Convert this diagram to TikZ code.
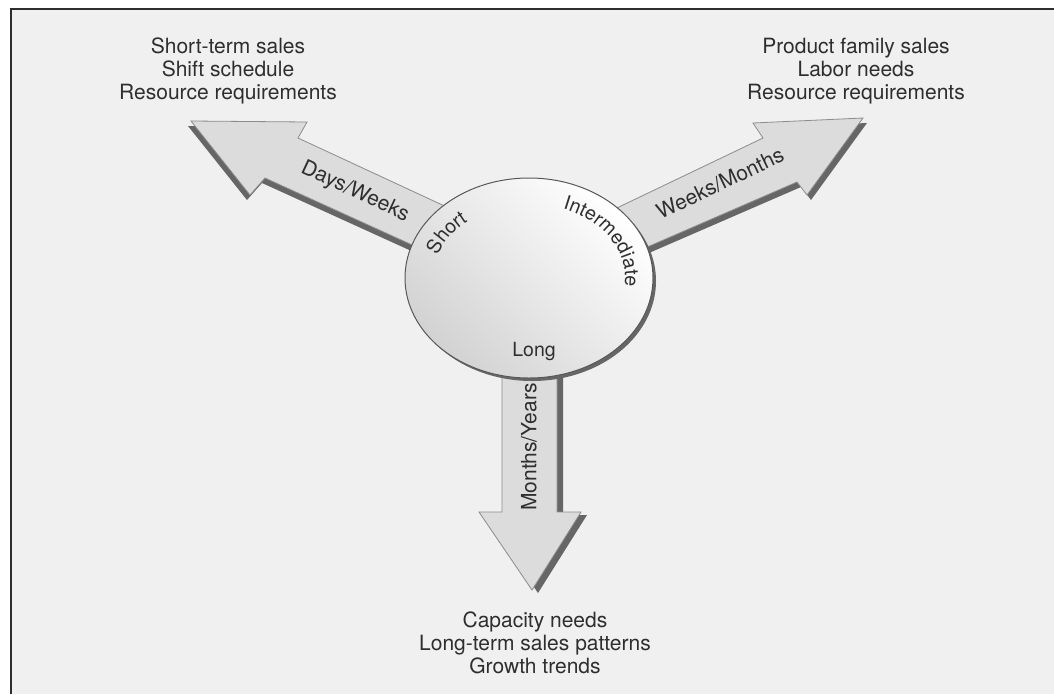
\documentclass[tikz,border=0pt]{standalone}
\usepackage{fontspec}
\setmainfont{TeX Gyre Heros}
\usetikzlibrary{decorations.text}
\newdimen\pxsize
\setlength{\pxsize}{1pt}
\definecolor{panel}{HTML}{F0F0F0}
\definecolor{ink}{HTML}{2E2E2E}
\definecolor{arrowfill}{HTML}{DCDCDC}
\definecolor{arrowedge}{HTML}{8C8C8C}
\definecolor{shadowgray}{HTML}{666666}
\newcommand{\ringfont}{\fontsize{19.5}{21}\selectfont}

\begin{document}
\begin{tikzpicture}[x=\pxsize,y=-\pxsize,
  listtext/.style={align=center,text=ink,font=\fontsize{21}{23}\selectfont},
  shaftlabel/.style={text=ink,font=\fontsize{21}{23}\selectfont},
  arrowshade/.style={fill=shadowgray},
  arrowbody/.style={fill=arrowfill,draw=arrowedge,line width=0.8},
  ringtext/.style={decorate,decoration={text along path,text align=center,text color=ink,text={|\ringfont|#1}}}]
\useasboundingbox (0,0) rectangle (1054,694);
\fill[white] (0,0) rectangle (1054,694);
\fill[panel] (11,9) rectangle (1054,694);
\draw[ink,line width=2] (11,694) -- (11,9) -- (1054,9);
\foreach \arrsty/\dx/\dy in {arrowshade/-3/5,arrowbody/0/0}{
  \path[\arrsty,shift={(\dx,\dy)}] (191,121) -- (307,122) -- (298,138) -- (451,209)
    -- (421,249) -- (265,178) -- (250,195) -- cycle;
}
\foreach \arrsty/\dx/\dy in {arrowshade/4/5,arrowbody/0/0}{
  \path[\arrsty,shift={(\dx,\dy)}] (863,118) -- (807,195) -- (797,182) -- (641.5,249.5)
    -- (609.5,211.5) -- (763,138) -- (753,123) -- cycle;
}
\foreach \arrsty/\dx/\dy in {arrowshade/6/3,arrowbody/0/0}{
  \path[\arrsty,shift={(\dx,\dy)}] (502,365) -- (502,512) -- (479,512) -- (532,590)
    -- (581,512) -- (557,512) -- (557,365) -- cycle;
}
\coordinate (hub) at (529,278);
\fill[shadowgray] (532,281) ellipse [x radius=124,y radius=100];
\shadedraw[top color=white,bottom color=gray!35,shading angle=-45,draw=ink!80,line width=1]
  (hub) ellipse [x radius=124,y radius=100];
\path[ringtext=Short] (436.3,297.2) arc[start angle=-195,end angle=-103,x radius=96,y radius=74];
\path[ringtext=Intermediate] (545.7,205.1) arc[start angle=-80,end angle=20,x radius=96,y radius=74];
\node[text=ink,font=\ringfont] (longlbl) at (534,352) {Long};
\node[shaftlabel,rotate=-25] (dayslbl) at (355,192) {Days/Weeks};
\node[shaftlabel,rotate=25.5] (weekslbl) at (720,183) {Weeks/Months};
\node[shaftlabel,rotate=90] (monthslbl) at (529,447) {Months/Years};
\node[listtext] (shortlist) at (228,71) {Short-term sales\\Shift schedule\\Resource requirements};
\node[listtext] (familylist) at (856,71) {Product family sales\\Labor needs\\Resource requirements};
\node[listtext] (longlist) at (535,643) {Capacity needs\\Long-term sales patterns\\Growth trends};
\end{tikzpicture}
\end{document}
